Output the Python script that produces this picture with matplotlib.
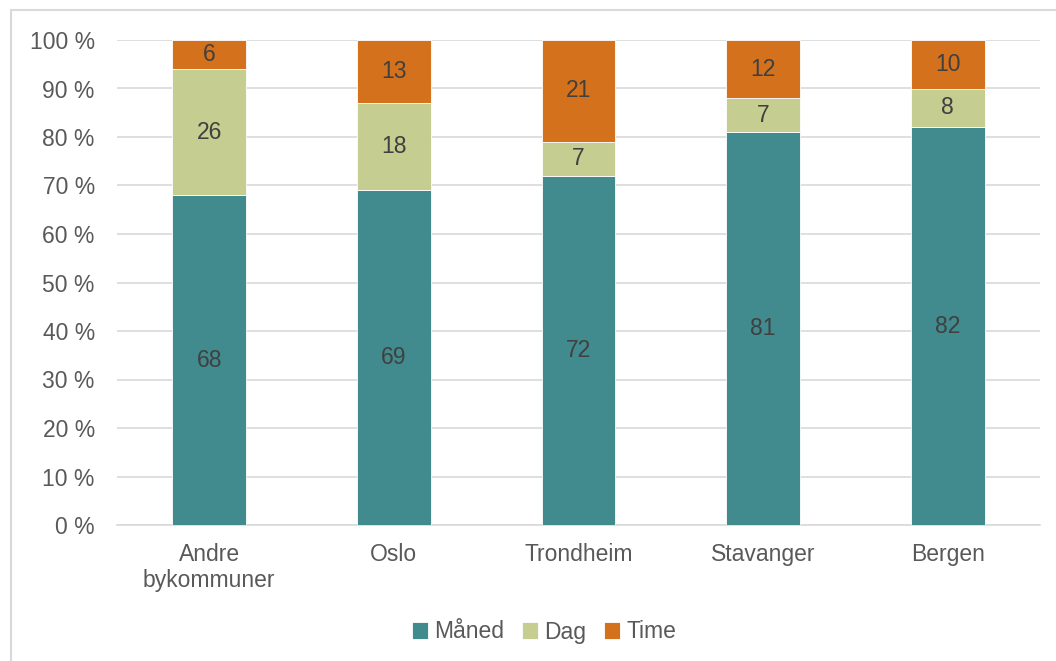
import numpy as np
import matplotlib.pyplot as plt
from matplotlib.patches import Rectangle

plt.rcParams['font.family'] = ['Liberation Sans', 'DejaVu Sans']

# Andel per kategori (prosent)
kategorier = ['Andre\nbykommuner', 'Oslo', 'Trondheim', 'Stavanger', 'Bergen']
maaned = [68, 69, 72, 81, 82]
dag = [26, 18, 7, 7, 8]
time = [6, 13, 21, 12, 10]

serier = [('Måned', maaned, '#418A8E'),
          ('Dag', dag, '#C6CD90'),
          ('Time', time, '#D4711C')]

fs = 16.5

fig = plt.figure(figsize=(10.56, 6.61), dpi=100)
ax = fig.add_axes([117/1056, 1 - 525/661, 923/1056, 485/661])

# ramme rundt hele diagrammet
fig.patches.append(Rectangle((11/1056, -0.05), 1.2, 1 - 10/661 + 0.05,
                             transform=fig.transFigure, fill=False,
                             edgecolor='#d9d9d9', linewidth=1.5))

x = np.arange(len(kategorier))
bunn = np.zeros(len(kategorier))
for navn, verdier, farge in serier:
    verdier = np.array(verdier, dtype=float)
    ax.bar(x, verdier, bottom=bunn, width=0.4, color=farge, label=navn,
           edgecolor='white', linewidth=0.6, zorder=3)
    for xi, b, v in zip(x, bunn, verdier):
        ax.text(xi, b + v / 2, f'{int(v)}', ha='center', va='center',
                fontsize=fs, color='#404040', zorder=4)
    bunn += verdier

ax.set_xlim(-0.5, len(kategorier) - 0.5)
ax.set_ylim(0, 100)
ax.set_yticks(np.arange(0, 101, 10))
ax.set_yticklabels([f'{t} %' for t in range(0, 101, 10)])
ax.set_xticks(x)
ax.set_xticklabels(kategorier, linespacing=1.15)
ax.tick_params(axis='both', length=0, labelsize=fs, labelcolor='#595959')
ax.tick_params(axis='y', pad=16)
ax.tick_params(axis='x', pad=13)
ax.grid(axis='y', color='#d9d9d9', linewidth=1.2, zorder=0)
for s in ['top', 'right', 'left']:
    ax.spines[s].set_visible(False)
ax.spines['bottom'].set_color('#d9d9d9')
ax.spines['bottom'].set_linewidth(1.2)

fig.legend(loc='center', bbox_to_anchor=(544/1056, 1 - 632/661), ncol=3,
           frameon=False, fontsize=fs, handlelength=0.7, handleheight=0.7,
           handletextpad=0.25, columnspacing=0.8, labelcolor='#595959')

fig.savefig('out.png', dpi=100)
